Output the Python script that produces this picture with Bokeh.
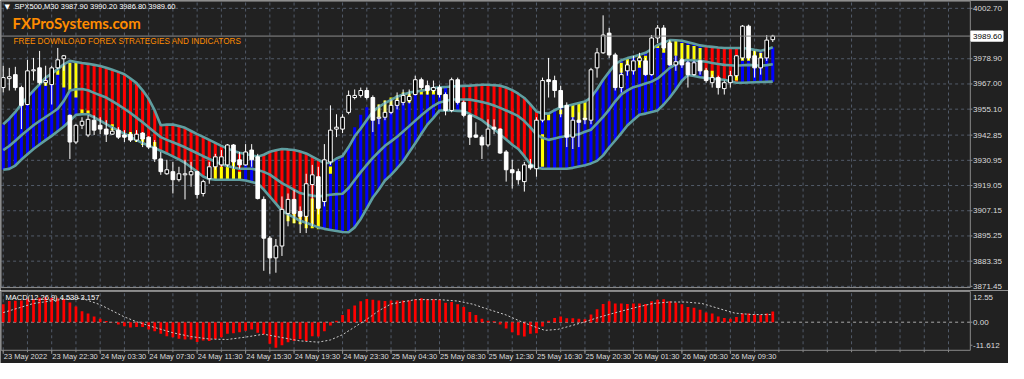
from bokeh.plotting import figure
from bokeh.layouts import column
from bokeh.models import Range1d, Label, ColumnDataSource
from bokeh.core.properties import value
from bokeh.embed import file_html
from bokeh.resources import INLINE

# ---------------- data (SPX500, M30) ----------------
open_ = [3965.3, 3969.5, 3971.4, 3965.3, 3957.3, 3973.2, 3974.6, 3967.6, 3966.7, 3974.6,
         3978.9, 3952.2, 3939.6, 3947.5, 3942.9, 3949.9, 3947.5, 3945.7, 3943.3, 3945.2,
         3942.9, 3943.3, 3940.5, 3943.8, 3941.9, 3937.2, 3931.6, 3924.6, 3925.6, 3921.8,
         3924.1, 3924.1, 3925.6, 3915.3, 3922.3, 3927.9, 3928.8, 3928.8, 3938.2, 3931.2,
         3928.8, 3935.8, 3932.6, 3912.5, 3894.2, 3884.9, 3890.5, 3905.9, 3912.5, 3906.8,
         3904.5, 3919.5, 3923.2, 3911.5, 3930.2, 3945.7, 3945.7, 3953.6, 3960.6, 3961.6,
         3963.9, 3960.6, 3950.8, 3951.3, 3953.6, 3956.9, 3958.3, 3959.2, 3962.0, 3969.0,
         3966.2, 3963.9, 3965.3, 3962.0, 3954.5, 3969.0, 3958.3, 3952.2, 3942.9, 3941.9,
         3938.2, 3946.6, 3945.7, 3934.9, 3926.5, 3925.6, 3920.9, 3928.8, 3927.0, 3949.9,
         3969.0, 3968.6, 3963.9, 3956.9, 3941.9, 3949.9, 3950.8, 3949.9, 3974.6, 3981.7,
         3991.0, 3980.7, 3965.3, 3973.2, 3973.2, 3977.9, 3977.9, 3971.4, 3988.7, 3993.4,
         3986.3, 3976.0, 3978.4, 3977.0, 3971.4, 3977.9, 3973.2, 3967.6, 3970.0, 3964.8,
         3967.6, 3970.9, 3979.3, 3994.3, 3980.3, 3974.6, 3979.3, 3987.9]
high_ = [3975.6, 3974.6, 3975.1, 3966.2, 3978.4, 3979.3, 3982.6, 3975.6, 3975.6, 3984.0,
         3980.7, 3952.6, 3948.0, 3951.3, 3952.2, 3952.2, 3951.3, 3949.9, 3946.6, 3946.6,
         3945.2, 3944.3, 3945.2, 3944.3, 3942.3, 3940.5, 3934.9, 3931.2, 3930.2, 3927.9,
         3931.2, 3930.2, 3926.0, 3921.8, 3930.2, 3934.0, 3935.8, 3938.6, 3938.6, 3934.9,
         3938.6, 3938.6, 3934.0, 3913.9, 3895.2, 3893.8, 3913.9, 3915.3, 3917.1, 3909.2,
         3924.6, 3928.8, 3927.9, 3938.6, 3956.9, 3952.7, 3952.7, 3963.9, 3964.4, 3965.3,
         3965.3, 3961.6, 3957.3, 3959.2, 3959.7, 3963.0, 3964.4, 3964.4, 3970.9, 3970.0,
         3968.6, 3968.6, 3966.7, 3963.0, 3970.0, 3970.0, 3959.2, 3952.7, 3948.9, 3942.9,
         3950.3, 3950.3, 3946.1, 3935.8, 3931.2, 3927.0, 3930.2, 3931.6, 3951.3, 3970.0,
         3979.3, 3970.9, 3966.2, 3958.3, 3951.3, 3953.6, 3954.5, 3974.6, 3984.0, 3999.4,
         3993.4, 3981.7, 3974.6, 3977.9, 3980.3, 3981.7, 3979.3, 3990.1, 3994.8, 3994.8,
         3987.7, 3980.3, 3979.3, 3977.9, 3977.9, 3978.4, 3974.6, 3971.4, 3970.9, 3968.6,
         3973.2, 3980.7, 3994.8, 3995.0, 3982.6, 3981.7, 3990.1, 3990.2]
low_ = [3963.0, 3963.9, 3963.9, 3945.7, 3956.9, 3968.6, 3966.7, 3966.2, 3957.3, 3973.9,
        3973.2, 3931.6, 3938.6, 3945.7, 3941.9, 3942.9, 3943.3, 3939.6, 3942.9, 3941.0,
        3939.6, 3939.6, 3939.6, 3937.2, 3936.3, 3930.2, 3924.1, 3924.1, 3915.3, 3920.9,
        3912.5, 3918.5, 3912.9, 3913.9, 3919.9, 3926.5, 3927.9, 3927.9, 3927.0, 3927.0,
        3928.4, 3927.9, 3912.5, 3878.8, 3877.4, 3877.9, 3885.8, 3899.8, 3901.2, 3896.6,
        3896.6, 3899.8, 3905.4, 3909.2, 3928.8, 3941.9, 3943.8, 3952.7, 3959.7, 3960.6,
        3959.7, 3944.3, 3948.0, 3949.9, 3952.7, 3955.0, 3956.9, 3957.8, 3961.6, 3964.4,
        3962.0, 3963.0, 3960.6, 3952.2, 3953.6, 3957.3, 3951.3, 3938.2, 3941.5, 3931.6,
        3937.2, 3943.3, 3934.0, 3920.9, 3917.6, 3919.5, 3916.2, 3926.5, 3923.2, 3948.9,
        3960.6, 3960.6, 3951.3, 3937.2, 3936.3, 3937.2, 3948.0, 3948.0, 3970.0, 3981.2,
        3979.3, 3963.9, 3963.0, 3970.9, 3971.4, 3976.0, 3970.9, 3970.9, 3986.3, 3983.1,
        3975.6, 3973.2, 3974.6, 3965.3, 3970.9, 3971.4, 3967.6, 3965.3, 3962.0, 3962.0,
        3965.3, 3970.0, 3978.4, 3978.4, 3970.0, 3971.4, 3977.9, 3986.8]
close_ = [3970.0, 3970.4, 3965.3, 3956.9, 3973.2, 3973.7, 3967.6, 3968.6, 3974.6, 3978.4,
          3980.3, 3939.6, 3947.5, 3949.4, 3950.3, 3945.2, 3945.7, 3943.3, 3944.7, 3941.9,
          3941.9, 3940.5, 3943.3, 3941.0, 3937.2, 3931.6, 3925.6, 3926.5, 3921.8, 3924.6,
          3924.6, 3925.6, 3914.8, 3920.9, 3927.9, 3932.6, 3932.6, 3938.2, 3930.2, 3928.8,
          3934.9, 3931.2, 3912.9, 3894.2, 3884.9, 3890.5, 3907.8, 3912.5, 3905.9, 3904.5,
          3919.9, 3924.1, 3908.3, 3931.2, 3945.2, 3946.6, 3951.3, 3961.6, 3961.6, 3963.9,
          3960.6, 3949.9, 3951.3, 3953.6, 3956.9, 3959.2, 3961.6, 3961.1, 3969.0, 3965.3,
          3963.9, 3965.3, 3962.0, 3954.5, 3969.0, 3958.3, 3952.2, 3941.9, 3941.9, 3938.2,
          3945.7, 3945.7, 3934.4, 3926.5, 3925.1, 3921.8, 3928.8, 3927.4, 3949.9, 3968.6,
          3968.1, 3963.9, 3955.9, 3941.9, 3949.9, 3948.9, 3950.3, 3973.7, 3981.7, 3990.1,
          3980.7, 3965.3, 3971.4, 3976.0, 3977.9, 3979.3, 3971.4, 3988.7, 3993.4, 3984.0,
          3976.0, 3977.5, 3976.0, 3971.4, 3977.0, 3973.2, 3968.6, 3970.0, 3965.3, 3967.6,
          3970.9, 3980.3, 3994.3, 3979.3, 3974.6, 3979.3, 3987.7, 3989.6]

upper = [3948.0, 3950.6, 3953.8, 3957.5, 3960.8, 3963.9, 3966.8, 3970.0, 3971.9, 3974.0,
         3976.3, 3977.9, 3977.4, 3976.9, 3976.5, 3976.0, 3975.5, 3974.7, 3973.7, 3972.7,
         3971.6, 3969.6, 3967.4, 3964.0, 3960.0, 3954.5, 3947.5, 3947.8, 3947.8, 3947.2,
         3946.3, 3944.8, 3943.3, 3942.0, 3940.6, 3939.2, 3937.8, 3936.5, 3935.4, 3934.5,
         3933.9, 3933.3, 3932.7, 3933.6, 3935.0, 3935.7, 3936.3, 3936.1, 3935.8, 3935.1,
         3934.2, 3932.7, 3931.2, 3929.6, 3929.8, 3931.8, 3933.0, 3937.2, 3942.3, 3946.0,
         3950.0, 3953.9, 3956.2, 3957.9, 3959.5, 3961.0, 3962.0, 3962.9, 3963.4, 3963.8,
         3964.4, 3965.1, 3965.4, 3965.6, 3965.8, 3966.0, 3966.1, 3966.2, 3966.4, 3966.6,
         3966.6, 3966.4, 3966.2, 3965.3, 3964.1, 3962.4, 3960.4, 3957.4, 3954.0, 3953.1,
         3953.0, 3954.6, 3956.0, 3956.6, 3957.3, 3958.0, 3958.7, 3960.6, 3964.5, 3969.0,
         3972.7, 3976.3, 3978.2, 3979.2, 3979.9, 3980.8, 3981.7, 3983.5, 3985.4, 3986.5,
         3987.7, 3987.6, 3987.4, 3986.7, 3986.0, 3985.2, 3984.8, 3984.5, 3984.2, 3984.0,
         3984.0, 3984.0, 3984.0, 3983.6, 3983.1, 3982.7, 3983.3, 3984.3]
middle = [3935.8, 3937.7, 3940.2, 3942.8, 3945.2, 3947.5, 3949.5, 3951.4, 3953.3, 3955.3,
          3959.0, 3963.9, 3964.5, 3964.6, 3964.0, 3962.8, 3961.7, 3960.6, 3958.9, 3957.1,
          3955.3, 3953.3, 3951.1, 3948.9, 3946.6, 3944.2, 3941.9, 3940.6, 3939.5, 3938.3,
          3937.1, 3935.7, 3934.3, 3932.9, 3931.6, 3930.4, 3929.1, 3928.3, 3927.6, 3927.0,
          3927.0, 3927.0, 3926.4, 3925.5, 3924.2, 3922.2, 3920.2, 3918.7, 3917.0, 3915.5,
          3914.8, 3914.3, 3913.9, 3914.3, 3914.7, 3915.0, 3915.2, 3917.9, 3921.7, 3925.4,
          3928.8, 3932.1, 3935.0, 3937.8, 3939.9, 3942.1, 3944.6, 3947.1, 3949.7, 3952.2,
          3954.6, 3956.7, 3958.3, 3959.0, 3959.7, 3959.7, 3959.7, 3959.6, 3959.1, 3958.5,
          3957.8, 3956.8, 3955.7, 3954.5, 3953.2, 3951.8, 3949.5, 3946.5, 3943.1, 3941.6,
          3940.6, 3941.3, 3942.0, 3942.4, 3942.8, 3943.3, 3944.4, 3945.4, 3948.4, 3951.5,
          3954.9, 3958.8, 3962.1, 3964.0, 3965.5, 3966.3, 3967.2, 3968.1, 3969.6, 3972.0,
          3974.6, 3976.3, 3978.0, 3978.3, 3978.1, 3977.9, 3977.5, 3976.9, 3976.4, 3976.0,
          3975.8, 3975.6, 3975.8, 3976.0, 3975.8, 3975.6, 3975.9, 3976.3]
lower = [3926.5, 3926.9, 3928.5, 3931.3, 3933.8, 3936.3, 3938.4, 3940.5, 3942.5, 3944.7,
         3946.9, 3949.6, 3952.4, 3952.7, 3952.7, 3951.2, 3949.7, 3948.0, 3946.5, 3945.0,
         3943.5, 3942.0, 3940.5, 3939.1, 3937.9, 3936.7, 3935.5, 3934.2, 3932.8, 3931.4,
         3929.8, 3927.7, 3925.6, 3923.3, 3922.1, 3921.8, 3921.8, 3921.8, 3921.8, 3921.8,
         3921.4, 3920.7, 3920.0, 3917.1, 3913.8, 3910.5, 3907.1, 3905.4, 3904.0, 3902.4,
         3901.5, 3900.4, 3899.3, 3898.6, 3898.1, 3897.6, 3897.1, 3897.0, 3899.3, 3903.3,
         3908.3, 3913.4, 3917.2, 3921.4, 3924.1, 3927.2, 3930.5, 3934.8, 3939.0, 3943.5,
         3947.8, 3951.0, 3954.5, 3954.5, 3954.5, 3954.3, 3954.1, 3952.8, 3951.4, 3949.9,
         3947.7, 3945.6, 3943.2, 3940.8, 3938.3, 3936.3, 3932.9, 3929.1, 3927.5, 3927.0,
         3927.0, 3927.0, 3927.0, 3927.0, 3927.4, 3928.0, 3928.6, 3929.5, 3930.7, 3933.3,
         3937.0, 3940.3, 3943.8, 3947.4, 3950.0, 3952.5, 3953.0, 3953.8, 3954.5, 3957.3,
         3960.6, 3964.4, 3968.5, 3971.2, 3970.8, 3970.2, 3969.8, 3969.5, 3969.2, 3969.0,
         3968.3, 3967.6, 3967.6, 3967.7, 3967.8, 3967.9, 3968.0, 3968.1]

# channel trend per bar: B = up (blue), R = down (red)
trend = ("BBBBBBBBBBBBB"
         "RRRRRRRRRRRRRRRRRRRRRRRRRRR"
         "BB"
         "RRRRRRRRRRR"
         "BBBBBBBBBBBBBBBBBBBBBBB"
         "RRRRRRRRRRRRR"
         "BBBBBBBBBBBBBBBBBBBBBBBBBBB"
         "RRRRRR"
         "BBBBBB")

# histogram parts reaching beyond the channel (bar, low, high)
ext_idx = [58, 59, 60]
ext_lo = [3942.3, 3946.0, 3950.0]
ext_hi = [3946.6, 3952.5, 3956.0]

# yellow signal segments (bar, low, high)
yel_idx = [7, 9, 10, 11, 12, 13, 14, 18, 20, 21, 22, 23, 25, 34, 35, 36, 37, 38, 39,
           47, 48, 49, 50, 51, 52, 54, 62, 63, 64, 65, 66, 67, 69, 70, 71, 72,
           89, 90, 92, 93, 94, 95, 96, 102, 103, 105, 106, 107, 108, 109, 110, 111,
           112, 113, 114, 115, 116, 117, 121, 122, 123, 124, 125]
yel_lo = [3966.2, 3971.4, 3965.3, 3963.9, 3960.6, 3952.7, 3953.1, 3945.2, 3941.9, 3940.5,
          3939.6, 3938.2, 3936.3, 3921.8, 3921.8, 3921.8, 3921.8, 3921.8, 3921.8,
          3902.2, 3901.2, 3900.8, 3898.9, 3898.9, 3898.4, 3924.6, 3951.3, 3952.7, 3956.9,
          3957.3, 3958.3, 3958.3, 3962.0, 3962.0, 3962.0, 3963.0,
          3927.9, 3949.9, 3952.7, 3952.2, 3951.3, 3949.9, 3949.9, 3972.3, 3973.7, 3974.6,
          3977.9, 3981.7, 3984.0, 3981.7, 3978.4, 3980.3,
          3978.4, 3978.4, 3977.9, 3973.2, 3972.3, 3970.0, 3968.6, 3977.9, 3977.9, 3979.3, 3979.3]
yel_hi = [3968.6, 3973.7, 3976.0, 3977.0, 3977.0, 3955.0, 3954.5, 3948.0, 3943.3, 3944.3,
          3941.9, 3941.9, 3939.6, 3925.6, 3927.9, 3927.9, 3928.8, 3930.2, 3925.6,
          3906.8, 3906.8, 3904.5, 3905.4, 3912.9, 3911.5, 3928.0, 3957.3, 3959.2, 3960.6,
          3961.6, 3963.0, 3963.0, 3964.4, 3964.4, 3965.3, 3965.3,
          3943.3, 3952.7, 3955.0, 3956.6, 3957.3, 3958.0, 3958.7, 3977.0, 3979.2, 3980.3,
          3980.3, 3983.5, 3985.4, 3986.5, 3987.3, 3987.3,
          3986.3, 3985.4, 3984.9, 3984.0, 3973.7, 3973.2, 3970.9, 3980.3, 3980.3, 3982.6, 3981.7]

macd = [7.5, 8.8, 8.9, 9.0, 9.8, 9.6, 10.2, 10.4, 10.2, 10.0,
        9.7, 8.2, 6.5, 4.6, 3.6, 2.4, 1.4, 0.5, 0.1, -1.0,
        -1.7, -2.2, -2.0, -2.0, -3.0, -3.8, -4.8, -5.8, -6.3, -6.9,
        -7.2, -7.2, -8.2, -7.6, -7.8, -7.0, -6.3, -4.8, -4.6, -4.2,
        -3.6, -3.0, -4.4, -5.0, -9.0, -10.6, -9.6, -8.4, -7.8, -7.0,
        -7.8, -5.8, -6.0, -3.8, -1.4, 0.6, 3.0, 5.4, 7.0, 8.7,
        9.7, 9.4, 9.0, 8.8, 9.0, 9.0, 9.0, 9.0, 9.6, 10.0,
        9.6, 9.6, 9.3, 8.1, 8.4, 7.5, 6.3, 4.2, 3.0, 1.4,
        0.6, 0.4, -1.0, -2.6, -4.2, -5.4, -6.0, -4.8, -4.6, -1.8,
        0.6, 1.8, 2.4, 1.6, 1.6, 1.4, 1.2, 3.2, 5.4, 7.6,
        8.7, 7.8, 7.8, 7.6, 7.8, 7.8, 7.6, 8.7, 9.4, 9.6,
        8.7, 8.2, 7.5, 6.3, 6.0, 5.2, 4.0, 3.6, 2.4, 1.8,
        1.4, 2.2, 3.6, 3.6, 3.2, 3.0, 3.6, 4.5]
sig_idx = [0, 5, 10, 13, 16, 20, 22, 25, 28, 31, 34, 37, 40, 43, 46, 49, 52, 54, 56, 58,
           60, 62, 64, 68, 72, 75, 77.5, 80, 83, 85.5, 87.7, 89.4, 91.5, 93.7, 95.8, 98,
           100.2, 102.3, 104.5, 107.2, 110, 112.6, 115.3, 118.5, 120.7, 123.4, 127]
sig_val = [4.0, 7.8, 9.6, 9.9, 7.3, 2.2, 0.2, -2.2, -4.4, -6.0, -7.0, -7.2, -6.2, -5.0,
           -6.4, -7.8, -8.3, -7.4, -5.2, -2.0, 1.2, 4.8, 7.6, 9.4, 9.4, 8.8, 7.5, 5.4,
           3.0, 0.2, -1.9, -3.4, -3.0, -1.5, 0.0, 1.8, 3.4, 4.8, 6.2, 7.8, 8.4, 8.4, 7.8,
           5.4, 3.8, 3.2, 3.16]

price_ticks = [4002.70, 3978.90, 3967.00, 3955.10, 3942.85, 3930.95, 3919.05,
               3907.15, 3895.25, 3883.35, 3871.45]
price_labels = ["4002.70", "3978.90", "3967.00", "3955.10", "3942.85", "3930.95",
                "3919.05", "3907.15", "3895.25", "3883.35", "3871.45"]
macd_labels = ["12.55", "0.00", "-11.612"]
time_bars = [0, 8, 16, 24, 32, 40, 48, 56, 64, 72, 80, 88, 96, 104, 112, 120]
time_labels = ["23 May 2022", "23 May 22:30", "24 May 03:30", "24 May 07:30",
               "24 May 11:30", "24 May 15:30", "24 May 19:30", "24 May 23:30",
               "25 May 04:30", "25 May 08:30", "25 May 12:30", "25 May 16:30",
               "25 May 20:30", "26 May 01:30", "26 May 05:30", "26 May 09:30"]
header = "SPX500,M30  3987.90 3990.20 3986.80 3989.60"
macd_title = "MACD(12,26,9) 4.539 3.157"

# ---------------- layout / style constants ----------------
BG = "#212121"
GRID = "#525b69"
OUT = "#8a8a8a"
TXT = "#dcdcdc"
FONT = "Liberation Sans"
ORANGE = "#ff8c00"
W = 1008
X0, X1 = -0.35, 159.6          # plot area (bars) left/right border
XR = Range1d(-0.45, 165.9)      # whole figure width incl. right scale
XL = 160.05                     # start of right scale labels
TK = 159.95                     # end of right scale tick marks

n = len(close_)
xs = list(range(n))
grid_bars = list(range(0, 157, 4))


def base_fig(height, yr):
    f = figure(width=W, height=height, x_range=XR, y_range=yr,
               x_axis_location=None, y_axis_location=None, output_backend="svg",
               toolbar_location=None, min_border=0,
               background_fill_color=BG, border_fill_color=BG, outline_line_color=None)
    f.grid.visible = False
    return f


def frame(f, ybot, ytop, hticks):
    # dashed grid inside the plot area
    f.segment(x0=grid_bars, y0=[ybot] * len(grid_bars), x1=grid_bars, y1=[ytop] * len(grid_bars),
              line_color=GRID, line_dash="3 3", line_width=1)
    if hticks:
        f.segment(x0=[X0] * len(hticks), y0=hticks, x1=[X1] * len(hticks), y1=hticks,
                  line_color=GRID, line_dash="3 3", line_width=1)


def border(f, ybot, ytop):
    f.segment(x0=[X0, X1, X0, X0], y0=[ybot, ybot, ybot, ytop],
              x1=[X0, X1, X1, X1], y1=[ytop, ytop, ybot, ytop],
              line_color=OUT, line_width=1)


# ---------------- main price panel ----------------
P_BOT, P_TOP = 3870.9, 4006.1
p = base_fig(290, Range1d(3869.5, 4006.4))
frame(p, P_BOT, P_TOP, price_ticks)

src = ColumnDataSource(dict(
    x=xs, h=high_, l=low_,
    top=[max(a, b) for a, b in zip(open_, close_)],
    bot=[min(a, b) for a, b in zip(open_, close_)],
    fill=["#000000" if c > o else "#ffffff" for o, c in zip(open_, close_)],
    up=upper, lo=lower,
    tc=["#0000ff" if trend[i] == "B" else "#ff0000" for i in range(n)],
))

p.vbar(x="x", bottom="lo", top="up", width=0.5, fill_color="tc", line_color=None, source=src)
p.vbar(x=ext_idx, bottom=ext_lo, top=ext_hi, width=0.5,
       fill_color=["#0000ff" if trend[i] == "B" else "#ff0000" for i in ext_idx], line_color=None)
p.vbar(x=yel_idx, bottom=yel_lo, top=yel_hi, width=0.5, fill_color="#ffff00", line_color=None)
for band in (upper, middle, lower):
    p.line(xs, band, line_color="#5f9ea0", line_width=2.6)
p.segment(x0="x", y0="l", x1="x", y1="h", line_color="#ffffff", line_width=1, source=src)
p.vbar(x="x", bottom="bot", top="top", width=0.6, fill_color="fill",
       line_color="#ffffff", line_width=1, source=src)

# current price line
p.segment(x0=[X0], y0=[close_[-1]], x1=[X1], y1=[close_[-1]], line_color="#8c8c8c", line_width=1)
border(p, P_BOT, P_TOP)

# right price scale
p.segment(x0=[X1] * len(price_ticks), y0=price_ticks, x1=[TK] * len(price_ticks), y1=price_ticks,
          line_color=OUT, line_width=1)
p.text(x=[XL] * len(price_ticks), y=price_ticks, text=price_labels,
       text_font=value(FONT), text_font_size="8px", text_color=TXT,
       text_baseline="middle", text_align="left")
# current price tag (white box)
p.rect(x=[X1 + 2.75], y=[close_[-1]], width=5.3, height=4.8, fill_color="#ffffff",
       line_color="#ffffff")
p.text(x=[XL], y=[close_[-1]], text=["%.2f" % close_[-1]], text_font=value(FONT),
       text_font_size="8px", text_color="#000000", text_baseline="middle", text_align="left")

# header texts
p.add_layout(Label(x=4, y=284, x_units="screen", y_units="screen", text="\u25bc",
                   text_font="DejaVu Sans", text_font_size="7px", text_color="#ffffff",
                   text_baseline="middle"))
p.add_layout(Label(x=14, y=284, x_units="screen", y_units="screen", text=header,
                   text_font=FONT, text_font_size="7.5px", text_color="#ffffff",
                   text_baseline="middle"))
p.add_layout(Label(x=12, y=268, x_units="screen", y_units="screen", text="FXProSystems.com",
                   text_font="Lato", text_font_size="15px", text_font_style="bold",
                   text_color=ORANGE, text_baseline="middle"))
p.add_layout(Label(x=13, y=249, x_units="screen", y_units="screen",
                   text="FREE DOWNLOAD FOREX STRATEGIES AND INDICATORS",
                   text_font=FONT, text_font_size="8.2px", text_color=ORANGE,
                   text_baseline="middle"))

# ---------------- MACD panel ----------------
M_BOT, M_TOP = -11.7, 12.8
m = base_fig(73, Range1d(-17.2, 13.2))
frame(m, M_BOT, M_TOP, [])
m.segment(x0=[X0], y0=[0], x1=[X1], y1=[0], line_color="#a8a8a8", line_dash="3 3", line_width=1)
m.vbar(x=xs, top=macd, bottom=0, width=0.45, fill_color="#ff0000", line_color=None)
m.line(sig_idx, sig_val, line_color="#c8c8c8", line_dash="2 2", line_width=1)
border(m, M_BOT, M_TOP)

macd_pos = [10.3, 0.0, -9.6]
m.segment(x0=[X1] * 2, y0=macd_pos[1:], x1=[TK] * 2, y1=macd_pos[1:], line_color=OUT, line_width=1)
m.text(x=[XL] * 3, y=macd_pos, text=macd_labels, text_font=value(FONT), text_font_size="8px",
       text_color=TXT, text_baseline="middle", text_align="left")
m.add_layout(Label(x=5, y=66, x_units="screen", y_units="screen", text=macd_title,
                   text_font=FONT, text_font_size="7.5px", text_color="#ffffff",
                   text_baseline="middle"))

# time scale (ticks below the MACD panel, left-aligned labels)
m.segment(x0=grid_bars, y0=[M_BOT] * len(grid_bars), x1=grid_bars, y1=[M_BOT - 0.8] * len(grid_bars),
          line_color=OUT, line_width=1)
m.segment(x0=time_bars, y0=[M_BOT] * len(time_bars), x1=time_bars, y1=[M_BOT - 1.5] * len(time_bars),
          line_color=OUT, line_width=1)
m.text(x=[b + 0.1 for b in time_bars], y=[-14.4] * len(time_bars), text=time_labels,
       text_font=value(FONT), text_font_size="7.5px", text_color=TXT,
       text_baseline="middle", text_align="left")

layout = column(p, m)
open("out.html", "w").write(file_html(layout, INLINE))
